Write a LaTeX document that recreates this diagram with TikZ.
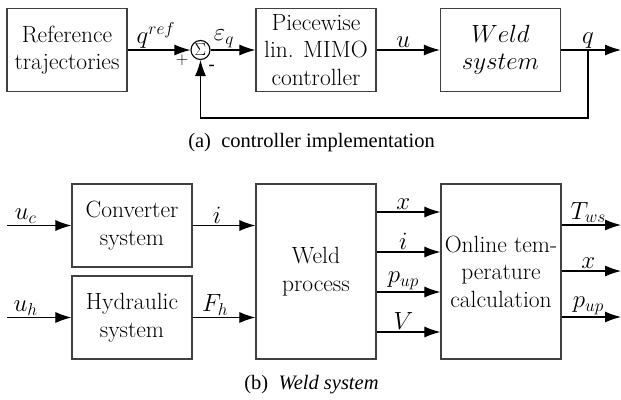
\documentclass[tikz,border=0pt]{standalone}
\usepackage{fontspec}
\newfontfamily\capfont{Liberation Serif}[Ligatures=TeX]
\usetikzlibrary{arrows.meta}
\begin{document}
\begin{tikzpicture}[x=1pt,y=-1pt,
  blk/.style={draw=black!75, line width=1.2pt, minimum width=120pt, minimum height=83pt,
    align=center, inner sep=0pt, font=\fontsize{23.5}{27.5}\selectfont},
  tall/.style={blk, minimum height=175pt},
  arr/.style={-{Latex[length=16pt,width=11pt]}, line width=1.1pt},
  lbl/.style={font=\fontsize{23}{25}\selectfont, inner sep=1.5pt, above},
  sgn/.style={font=\fontsize{16}{16}\selectfont, inner sep=0pt},
  captext/.style={font=\capfont\fontsize{20.5}{24}\selectfont}]
\useasboundingbox (0,0) rectangle (621,399);

% ---- controller loop ----
\node[blk] (ref) at (67,50) {Reference\\trajectories};
\node[draw, line width=1.1pt, circle, minimum size=19pt, inner sep=0pt,
      font=\fontsize{16}{16}\selectfont] (sum) at (200.5,50) {$\Sigma$};
\node[blk] (ctl) at (316,50) {Piecewise\\lin. MIMO\\controller};
\node[blk] (ws) at (500.5,50) {$Weld$\\$system$};
\coordinate (br) at (588,50);
\coordinate (qend) at (621,50);
\coordinate (fb) at (588,118);

\draw[arr] (ref.east) -- node[lbl,pos=0.45]{$q^{ref}$} (sum.west);
\draw[arr] (sum.east) -- node[lbl,pos=0.3]{$\varepsilon_q$} (ctl.west);
\draw[arr] (ctl.east) -- node[lbl,pos=0.42]{$u$} (ws.west);
\draw[arr] (ws.east) -- (qend);
\node[lbl] (qlab) at (br) {$q$};
\draw[arr] (br) -- (fb) -| (sum.south);
\node[sgn] (plus) at (182,60) {$+$};
\node[sgn] (minus) at (212,67) {\textbf{-}};

\node[captext] (capa) at (311.5,143) {(a)\enspace controller implementation};

% ---- weld system ----
\node[blk] (conv) at (132,225.5) {Converter\\system};
\node[blk] (hyd) at (132,317.5) {Hydraulic\\system};
\node[tall] (proc) at (316,271.5) {Weld\\process};
\node[tall] (onl) at (501,271.5) {Online tem-\\perature\\calculation};

\coordinate (uc) at (7,225.5);
\coordinate (uh) at (7,317.5);
\draw[arr] (uc) -- node[lbl,pos=0.29]{$u_c$} (conv.west);
\draw[arr] (uh) -- node[lbl,pos=0.29]{$u_h$} (hyd.west);
\draw[arr] (conv.east) -- node[lbl,pos=0.39]{$i$} (proc.west |- conv.east);
\draw[arr] (hyd.east) -- node[lbl,pos=0.36]{$F_h$} (proc.west |- hyd.east);

\coordinate (r1) at (0,212);
\coordinate (r2) at (0,252);
\coordinate (r3) at (0,292);
\coordinate (r4) at (0,332);
\draw[arr] (proc.east |- r1) -- node[lbl,pos=0.42]{$x$} (onl.west |- r1);
\draw[arr] (proc.east |- r2) -- node[lbl,pos=0.42]{$i$} (onl.west |- r2);
\draw[arr] (proc.east |- r3) -- node[lbl,pos=0.42]{$p_{up}$} (onl.west |- r3);
\draw[arr] (proc.east |- r4) -- node[lbl,pos=0.42]{$V$} (onl.west |- r4);

\coordinate (o1) at (621,225);
\coordinate (o2) at (621,271);
\coordinate (o3) at (621,317);
\draw[arr] (onl.east |- o1) -- node[lbl,pos=0.45]{$T_{ws}$} (o1);
\draw[arr] (onl.east |- o2) -- node[lbl,pos=0.45]{$x$} (o2);
\draw[arr] (onl.east |- o3) -- node[lbl,pos=0.45]{$p_{up}$} (o3);

\node[captext] (capb) at (311.5,385) {(b)\enspace\textit{Weld system}};
\end{tikzpicture}
\end{document}
